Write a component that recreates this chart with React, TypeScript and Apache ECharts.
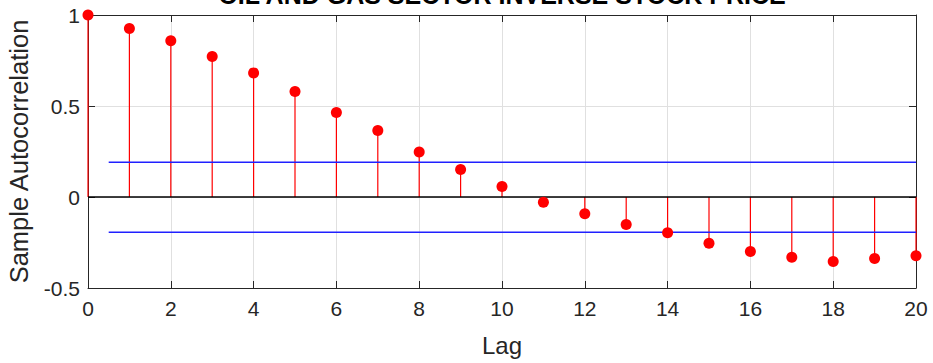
import React, { useEffect, useRef } from "react";
import * as echarts from "echarts";

const titleText = "OIL AND GAS SECTOR INVERSE STOCK PRICE";
const xLabel = "Lag";
const yLabel = "Sample Autocorrelation";
const lags = [0, 1, 2, 3, 4, 5, 6, 7, 8, 9, 10, 11, 12, 13, 14, 15, 16, 17, 18, 19, 20];
const acf = [1, 0.926, 0.858, 0.772, 0.682, 0.58, 0.464, 0.365, 0.247, 0.151, 0.058, -0.029, -0.092, -0.151, -0.197, -0.254, -0.299, -0.331, -0.354, -0.338, -0.323];
const upperBound = 0.191;
const lowerBound = -0.193;
const boundStart = 0.5;
const boundEnd = 20;

const FONT = "'Liberation Sans', Arial, Helvetica, sans-serif";
const TXT = "#262626";

export default function App() {
  const ref = useRef<HTMLDivElement>(null);
  useEffect(() => {
    if (!ref.current) return;
    const chart = echarts.init(ref.current, undefined, { renderer: "svg" });
    const points = lags.map((l, i) => [l, acf[i]]);
    const axisCommon = {
      axisLine: { show: true, onZero: false, lineStyle: { color: TXT, width: 1 } },
      axisTick: { show: true, inside: true, length: 7, lineStyle: { color: TXT, width: 1 } },
    };
    chart.setOption({
      animation: false,
      backgroundColor: "#ffffff",
      textStyle: { fontFamily: FONT },
      grid: { left: 88, right: 17, top: 15, bottom: 75, show: false, containLabel: false, outerBoundsMode: "none" },
      graphic: [
        {
          type: "text",
          x: 502,
          y: 7,
          style: {
            text: titleText,
            fontFamily: FONT,
            fontWeight: "bold",
            fontSize: 25,
            fill: "#000000",
            textAlign: "center",
            textVerticalAlign: "bottom",
          },
          z: 100,
        },
      ],
      xAxis: [
        {
          type: "value",
          min: 0,
          max: 20,
          interval: 2,
          position: "bottom",
          ...axisCommon,
          axisLabel: { color: TXT, fontSize: 21, fontFamily: FONT, margin: 10 },
          splitLine: { show: true, lineStyle: { color: "#e0e0e0", width: 1 } },
          name: xLabel,
          nameLocation: "middle",
          nameGap: 45,
          nameTextStyle: { color: TXT, fontSize: 24, fontFamily: FONT },
        },
        {
          type: "value",
          min: 0,
          max: 20,
          interval: 2,
          position: "top",
          ...axisCommon,
          axisLabel: { show: false },
          splitLine: { show: false },
        },
      ],
      yAxis: [
        {
          type: "value",
          min: -0.5,
          max: 1,
          interval: 0.5,
          position: "left",
          ...axisCommon,
          axisLabel: { color: TXT, fontSize: 21, fontFamily: FONT, margin: 8 },
          splitLine: { show: true, lineStyle: { color: "#e0e0e0", width: 1 } },
          name: yLabel,
          nameLocation: "middle",
          nameGap: 56,
          nameTextStyle: { color: TXT, fontSize: 25.5, fontFamily: FONT },
        },
        {
          type: "value",
          min: -0.5,
          max: 1,
          interval: 0.5,
          position: "right",
          ...axisCommon,
          axisLabel: { show: false },
          splitLine: { show: false },
        },
      ],
      series: [
        {
          type: "custom",
          xAxisIndex: 0,
          yAxisIndex: 0,
          data: points,
          z: 2,
          renderItem: (params: any, api: any) => {
            const p0 = api.coord([api.value(0), 0]);
            const p1 = api.coord([api.value(0), api.value(1)]);
            return {
              type: "line",
              shape: { x1: p0[0], y1: p0[1], x2: p1[0], y2: p1[1] },
              style: { stroke: "#ff0000", lineWidth: 1.2 },
            };
          },
        },
        {
          type: "line",
          xAxisIndex: 0,
          yAxisIndex: 0,
          data: [[0, 0], [20, 0]],
          symbol: "none",
          lineStyle: { color: "#000000", width: 1.5 },
          z: 3,
        },
        {
          type: "line",
          xAxisIndex: 0,
          yAxisIndex: 0,
          data: [[boundStart, upperBound], [boundEnd, upperBound]],
          symbol: "none",
          lineStyle: { color: "#2020ff", width: 1.5 },
          z: 3,
        },
        {
          type: "line",
          xAxisIndex: 0,
          yAxisIndex: 0,
          data: [[boundStart, lowerBound], [boundEnd, lowerBound]],
          symbol: "none",
          lineStyle: { color: "#2020ff", width: 1.5 },
          z: 3,
        },
        {
          type: "scatter",
          xAxisIndex: 0,
          yAxisIndex: 0,
          data: points,
          symbol: "circle",
          symbolSize: 11,
          itemStyle: { color: "#ff0000", opacity: 1 },
          z: 5,
        },
      ],
    });
    return () => chart.dispose();
  }, []);
  return <div ref={ref} style={{ width: 933, height: 363, position: "absolute", left: 0, top: 0 }} />;
}
